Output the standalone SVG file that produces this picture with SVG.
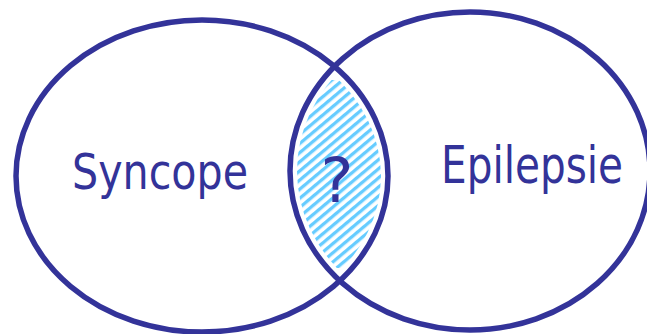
<svg xmlns="http://www.w3.org/2000/svg" width="647" height="334" viewBox="0 0 647 334">
<style>
.ring{fill:none;stroke:#333399;stroke-width:5.5}
.lbl{font-family:"DejaVu Sans","Liberation Sans",sans-serif;fill:#333399}
</style>
<defs>
<pattern id="hatch" patternUnits="userSpaceOnUse" width="7" height="7" patternTransform="rotate(-40)">
<rect x="0" y="0" width="7" height="3.3" fill="#66CCFF"/>
</pattern>
<clipPath id="clipL"><ellipse cx="202" cy="176" rx="179" ry="149"/></clipPath>
<clipPath id="clipR"><ellipse cx="470" cy="171" rx="173" ry="152"/></clipPath>
</defs>
<rect width="647" height="334" fill="#ffffff"/>
<g id="overlap">
<g clip-path="url(#clipL)">
<g clip-path="url(#clipR)">
<rect x="290" y="80" width="100" height="188" fill="url(#hatch)"/>
</g>
</g>
<text class="lbl" x="337" y="202" font-size="62" text-anchor="middle">?</text>
</g>
<g id="syncope">
<ellipse class="ring" cx="202" cy="176" rx="186" ry="156"/>
<text class="lbl" x="72" y="189" font-size="50" textLength="176" lengthAdjust="spacingAndGlyphs">Syncope</text>
</g>
<g id="epilepsie">
<ellipse class="ring" cx="470" cy="171" rx="180" ry="159"/>
<text class="lbl" x="441" y="183" font-size="51" textLength="182" lengthAdjust="spacingAndGlyphs">Epilepsie</text>
</g>
<g id="connectors"/>
</svg>
